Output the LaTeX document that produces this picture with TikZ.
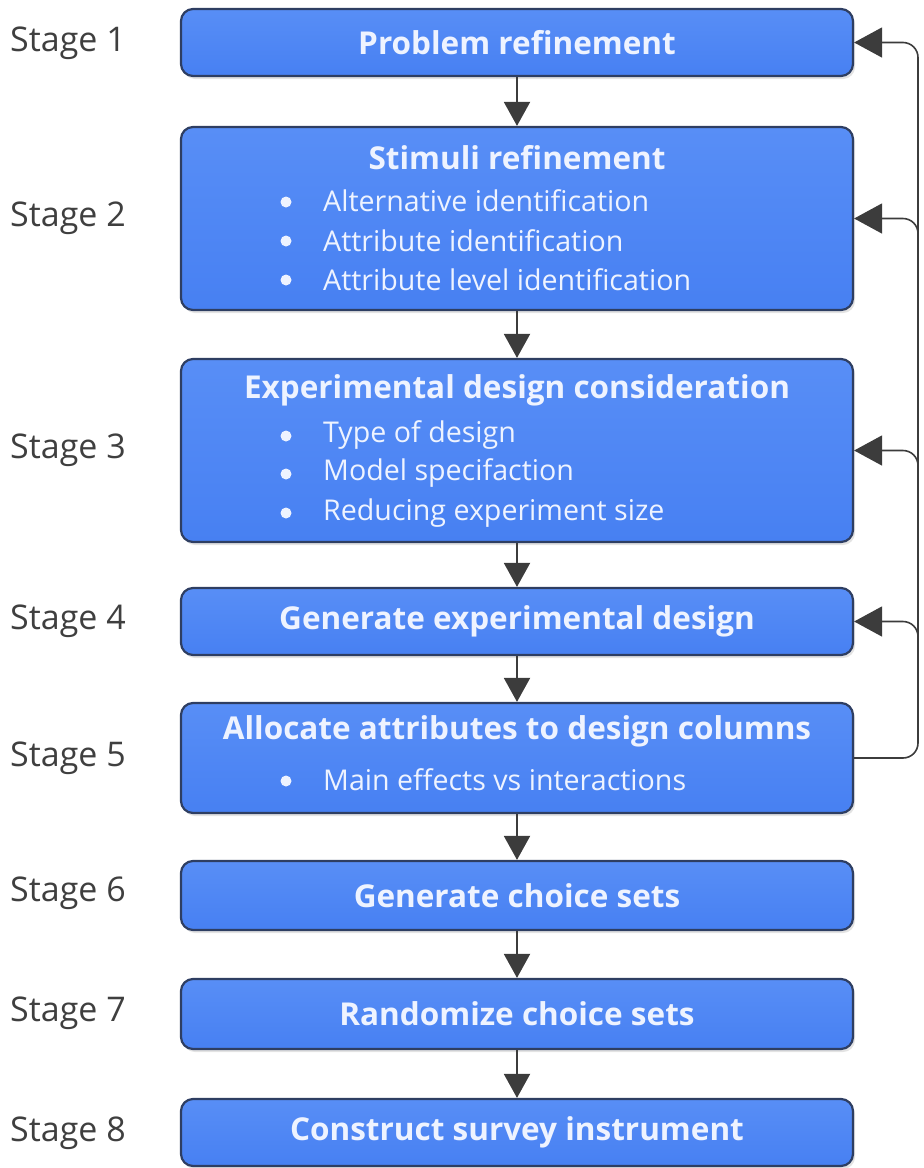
\documentclass[tikz,border=0pt]{standalone}
\usepackage{fontspec}
\setmainfont{Open Sans}
\usetikzlibrary{arrows.meta,shadows,calc}

\definecolor{boxtop}{HTML}{588EF6}
\definecolor{boxbot}{HTML}{4780F2}
\definecolor{boxline}{HTML}{2E3E62}
\definecolor{arrowgray}{HTML}{3C3C3C}
\definecolor{railgray}{HTML}{555555}
\definecolor{stagegray}{HTML}{3F3F3F}
\definecolor{boxtext}{HTML}{EEF3FF}

\tikzset{
  box/.style={rounded corners=12pt, draw=boxline, line width=2.2pt,
    top color=boxtop, bottom color=boxbot,
    minimum width=672pt, inner sep=0pt,
    drop shadow={shadow xshift=2pt, shadow yshift=-3pt, opacity=0.22, fill=gray}},
  title/.style={text=boxtext, font=\bfseries\fontsize{31.5}{36}\selectfont, inner sep=0pt},
  item/.style={text=boxtext, font=\fontsize{28.6}{33}\selectfont, inner sep=0pt, anchor=west},
  dot/.style={circle, fill=boxtext, minimum size=11pt, inner sep=0pt},
  stage/.style={text=stagegray, font=\fontsize{34}{40}\selectfont, inner sep=0pt, anchor=west},
  flow/.style={draw=arrowgray, line width=2pt, -{Triangle[length=24pt,width=26pt]}},
  feedback/.style={draw=railgray, line width=1.6pt, rounded corners=15pt,
    -{Triangle[length=28pt,width=30pt]}, arrowgray},
}

\begin{document}
\begin{tikzpicture}[x=1pt,y=-1pt]
\useasboundingbox (0,0) rectangle (924,1168);

% process boxes
\node[box, minimum height=67pt]  (b1) at (517,42.5)  {};
\node[box, minimum height=183pt] (b2) at (517,218.5) {};
\node[box, minimum height=183pt] (b3) at (517,450.5) {};
\node[box, minimum height=67pt]  (b4) at (517,621.5) {};
\node[box, minimum height=110pt] (b5) at (517,758)   {};
\node[box, minimum height=69pt]  (b6) at (517,895.5) {};
\node[box, minimum height=70pt]  (b7) at (517,1014)  {};
\node[box, minimum height=67pt]  (b8) at (517,1132.5) {};

% box texts
\node[title] (t1) at (b1) {Problem refinement};

\node[title] (t2) at (517,158) {Stimuli refinement};
\node[dot] (d2a) at (286,202) {};
\node[dot] (d2b) at (286,241) {};
\node[dot] (d2c) at (286,280) {};
\node[item] (t2a) at (323,201) {Alternative identification};
\node[item] (t2b) at (323,241) {Attribute identification};
\node[item] (t2c) at (323,280) {Attribute level identification};

\node[title] (t3) at (517,390) {Experimental design consideration};
\node[dot] (d3a) at (286,436) {};
\node[dot] (d3b) at (286,474) {};
\node[dot] (d3c) at (286,513) {};
\node[item] (t3a) at (323,435) {Type of design};
\node[item] (t3b) at (323,473) {Model specifaction};
\node[item] (t3c) at (323,513) {Reducing experiment size};

\node[title] (t4) at (b4) {Generate experimental design};

\node[title] (t5) at (517,731) {Allocate attributes to design columns};
\node[dot] (d5a) at (286,781) {};
\node[item] (t5a) at (323,780) {Main effects vs interactions};

\node[title] (t6) at (b6) {Generate choice sets};
\node[title] (t7) at (b7) {Randomize choice sets};
\node[title] (t8) at (b8) {Construct survey instrument};

% stage labels
\node[stage] (s1) at (10,43)   {Stage 1};
\node[stage] (s2) at (10,218)  {Stage 2};
\node[stage] (s3) at (10,450)  {Stage 3};
\node[stage] (s4) at (10,621)  {Stage 4};
\node[stage] (s5) at (10,758)  {Stage 5};
\node[stage] (s6) at (10,893)  {Stage 6};
\node[stage] (s7) at (10,1013) {Stage 7};
\node[stage] (s8) at (10,1133) {Stage 8};

% main flow
\draw[flow] (b1) -- (b2);
\draw[flow] (b2) -- (b3);
\draw[flow] (b3) -- (b4);
\draw[flow] (b4) -- (b5);
\draw[flow] (b5) -- (b6);
\draw[flow] (b6) -- (b7);
\draw[flow] (b7) -- (b8);

% feedback rail from stage 5 back to stages 1-4
\coordinate (rail) at (918,0);
\draw[feedback] (b5.east) -- (rail |- b5.east) -- (rail |- b1.east) -- (b1.east);
\draw[feedback] ($(rail |- b2.east)+(0,22)$) -- (rail |- b2.east) -- (b2.east);
\draw[feedback] ($(rail |- b3.east)+(0,22)$) -- (rail |- b3.east) -- (b3.east);
\draw[feedback] ($(rail |- b4.east)+(0,22)$) -- (rail |- b4.east) -- (b4.east);
\end{tikzpicture}
\end{document}
